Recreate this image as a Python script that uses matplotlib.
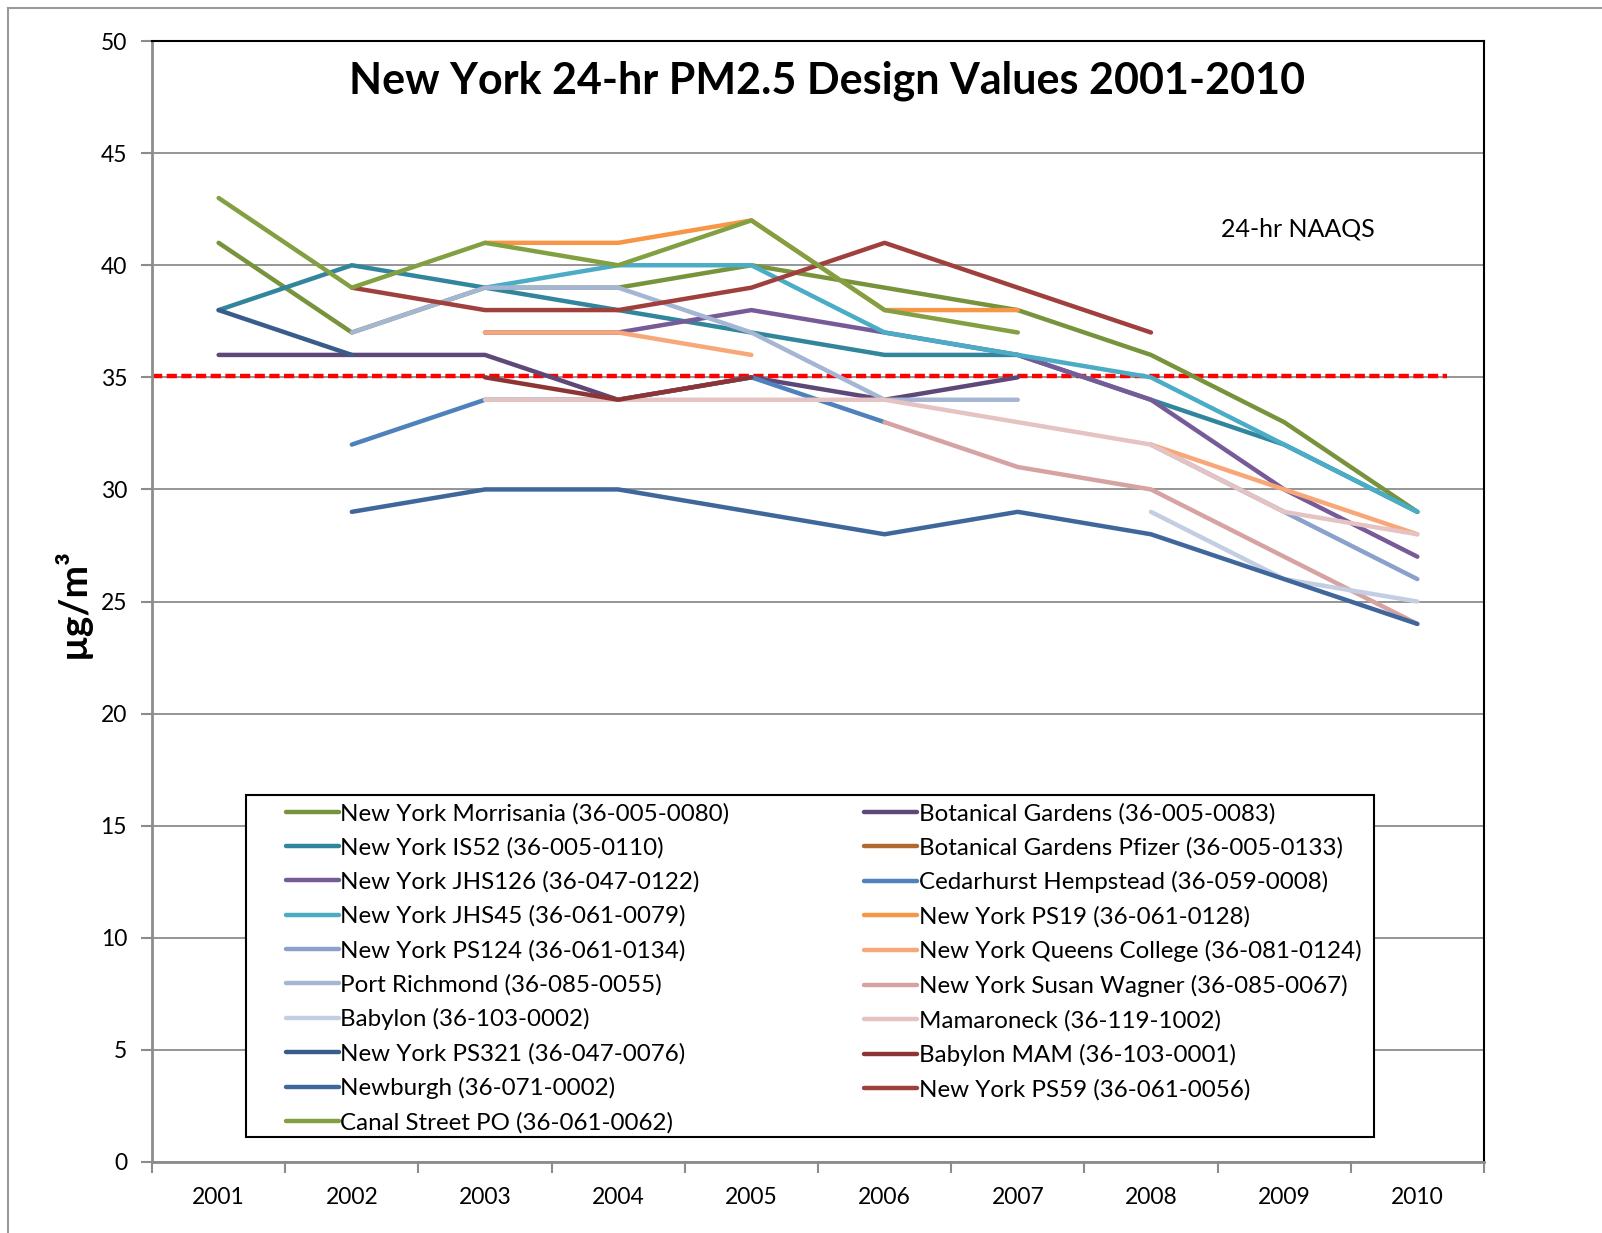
import numpy as np
import matplotlib.pyplot as plt
from matplotlib.lines import Line2D
from matplotlib.patches import Rectangle

nan = np.nan

# Data
years = ["2001", "2002", "2003", "2004", "2005", "2006", "2007", "2008", "2009", "2010"]
naaqs = 35

# series in the order the workbook draws them (later ones on top)
morrisania = [41, 37, 39, 39, 40, 39, 38, 36, 33, 29]
botanical = [36, 36, 36, 34, 35, 34, 35, nan, nan, nan]
is52 = [38, 40, 39, 38, 37, 36, 36, 34, 32, 29]
pfizer = [nan] * 10
jhs126 = [nan, nan, 37, 37, 38, 37, 36, 34, 30, 27]
cedarhurst = [nan, 32, 34, 34, 35, 33, nan, nan, nan, nan]
jhs45 = [nan, nan, 39, 40, 40, 37, 36, 35, 32, 29]
ps19 = [nan, nan, 41, 41, 42, 38, 38, nan, nan, nan]
ps124 = [nan, nan, nan, nan, nan, nan, nan, 32, 29, 26]
queens = [nan, nan, 37, 37, 36, nan, nan, 32, 30, 28]
port_richmond = [nan, 37, 39, 39, 37, 34, 34, nan, nan, nan]
susan_wagner = [nan, nan, nan, nan, nan, 33, 31, 30, 27, 24]
babylon = [nan, nan, nan, nan, nan, nan, nan, 29, 26, 25]
mamaroneck = [nan, nan, 34, 34, 34, 34, 33, 32, 29, 28]
ps321 = [38, 36, nan, nan, nan, nan, nan, nan, nan, nan]
babylon_mam = [nan, nan, 35, 34, 35, nan, nan, nan, nan, nan]
newburgh = [nan, 29, 30, 30, 29, 28, 29, 28, 26, 24]
ps59 = [nan, 39, 38, 38, 39, 41, 39, 37, nan, nan]
canal = [43, 39, 41, 40, 42, 38, 37, nan, nan, nan]

series = [
    ("New York Morrisania (36-005-0080)", morrisania, "#77933C"),
    ("Botanical Gardens (36-005-0083)", botanical, "#5E4878"),
    ("New York IS52 (36-005-0110)", is52, "#31859C"),
    ("Botanical Gardens Pfizer (36-005-0133)", pfizer, "#B0692F"),
    ("New York JHS126 (36-047-0122)", jhs126, "#775B98"),
    ("Cedarhurst Hempstead (36-059-0008)", cedarhurst, "#4F81BD"),
    ("New York JHS45 (36-061-0079)", jhs45, "#4BACC6"),
    ("New York PS19 (36-061-0128)", ps19, "#F79646"),
    ("New York PS124 (36-061-0134)", ps124, "#8AA1CC"),
    ("New York Queens College (36-081-0124)", queens, "#F8A878"),
    ("Port Richmond (36-085-0055)", port_richmond, "#A5B6D4"),
    ("New York Susan Wagner (36-085-0067)", susan_wagner, "#D6A3A2"),
    ("Babylon (36-103-0002)", babylon, "#C3CEE3"),
    ("Mamaroneck (36-119-1002)", mamaroneck, "#E5C3C2"),
    ("New York PS321 (36-047-0076)", ps321, "#385D8A"),
    ("Babylon MAM (36-103-0001)", babylon_mam, "#8E3434"),
    ("Newburgh (36-071-0002)", newburgh, "#3F679C"),
    ("New York PS59 (36-061-0056)", ps59, "#A0403D"),
    ("Canal Street PO (36-061-0062)", canal, "#82A042"),
]

plt.rcParams['font.family'] = ['Lato', 'DejaVu Sans']

fig = plt.figure(figsize=(16.02, 12.33), dpi=100)
ax = fig.add_axes([0.0949, 0.0576, 0.8314, 0.9091])

x = np.arange(len(years))
handles = {}
for name, vals, col in series:
    h, = ax.plot(x, vals, color=col, lw=3.2, solid_capstyle='round',
                 solid_joinstyle='round')
    handles[name] = h

# gridlines and NAAQS line
ax.set_ylim(0, 50)
ax.set_xlim(-0.5, len(years) - 0.5)
ax.set_yticks(np.arange(0, 51, 5))
ax.yaxis.grid(True, color="#8C8C8C", lw=1.3)
ax.set_axisbelow(True)
ax.axhline(naaqs + 0.08, xmin=0, xmax=0.972, color="#FF0000", lw=3.2,
           dashes=(2.3, 1.0), zorder=1.5)

# x axis: ticks between categories, labels at centres
ax.set_xticks(np.arange(-0.5, len(years), 1.0))
ax.set_xticklabels([])
ax.set_xticks(x, minor=True)
ax.set_xticklabels(years, minor=True, fontsize=16.5)
ax.tick_params(axis='x', which='major', direction='out', length=8,
               width=1.5, color="#8C8C8C")
ax.tick_params(axis='x', which='minor', length=0, pad=18)
ax.tick_params(axis='y', direction='out', length=8, width=1.5,
               color="#8C8C8C", labelsize=16.5, pad=10)

for s in ['left', 'bottom']:
    ax.spines[s].set_color("#8C8C8C")
    ax.spines[s].set_linewidth(2)
for s in ['top', 'right']:
    ax.spines[s].set_color("black")
    ax.spines[s].set_linewidth(1.5)

ax.text(0.507, 0.965, "New York 24-hr PM2.5 Design Values 2001-2010",
        transform=ax.transAxes, ha='center', va='center',
        fontsize=31, fontweight='bold')
ax.text(0.8026, 0.832, "24-hr NAAQS", transform=ax.transAxes,
        ha='left', va='center', fontsize=18)

fig.text(0.045, 0.511, "µg/m³", rotation=90, ha='center', va='center',
         fontsize=28, fontweight='bold')

# legend, column by column
col1 = ["New York Morrisania (36-005-0080)", "New York IS52 (36-005-0110)",
        "New York JHS126 (36-047-0122)", "New York JHS45 (36-061-0079)",
        "New York PS124 (36-061-0134)", "Port Richmond (36-085-0055)",
        "Babylon (36-103-0002)", "New York PS321 (36-047-0076)",
        "Newburgh (36-071-0002)", "Canal Street PO (36-061-0062)"]
col2 = ["Botanical Gardens (36-005-0083)", "Botanical Gardens Pfizer (36-005-0133)",
        "Cedarhurst Hempstead (36-059-0008)", "New York PS19 (36-061-0128)",
        "New York Queens College (36-081-0124)", "New York Susan Wagner (36-085-0067)",
        "Mamaroneck (36-119-1002)", "Babylon MAM (36-103-0001)",
        "New York PS59 (36-061-0056)"]
order = col1 + col2
leg = ax.legend([handles[n] for n in order], order, ncol=2,
                loc='upper left', bbox_to_anchor=(0.1006, 0.3203),
                borderaxespad=0, fontsize=17.4, frameon=False,
                handlelength=2.2, handletextpad=0.05,
                labelspacing=0.525, columnspacing=5.57, borderpad=0)

# legend box
ax.add_patch(Rectangle((0.0706, 0.0223), 0.9174 - 0.0706, 0.3274 - 0.0223,
                       transform=ax.transAxes, fill=True, facecolor='white',
                       edgecolor='black', lw=1.5, zorder=4))
leg.set_zorder(5)

# outer chart border
fig.add_artist(Line2D([0.005, 0.005], [0, 0.9935], color="#9A9A9A", lw=1.5,
                      transform=fig.transFigure))
fig.add_artist(Line2D([0.005, 1.0], [0.9935, 0.9935], color="#9A9A9A", lw=1.5,
                      transform=fig.transFigure))

fig.savefig("out.png", dpi=100)
